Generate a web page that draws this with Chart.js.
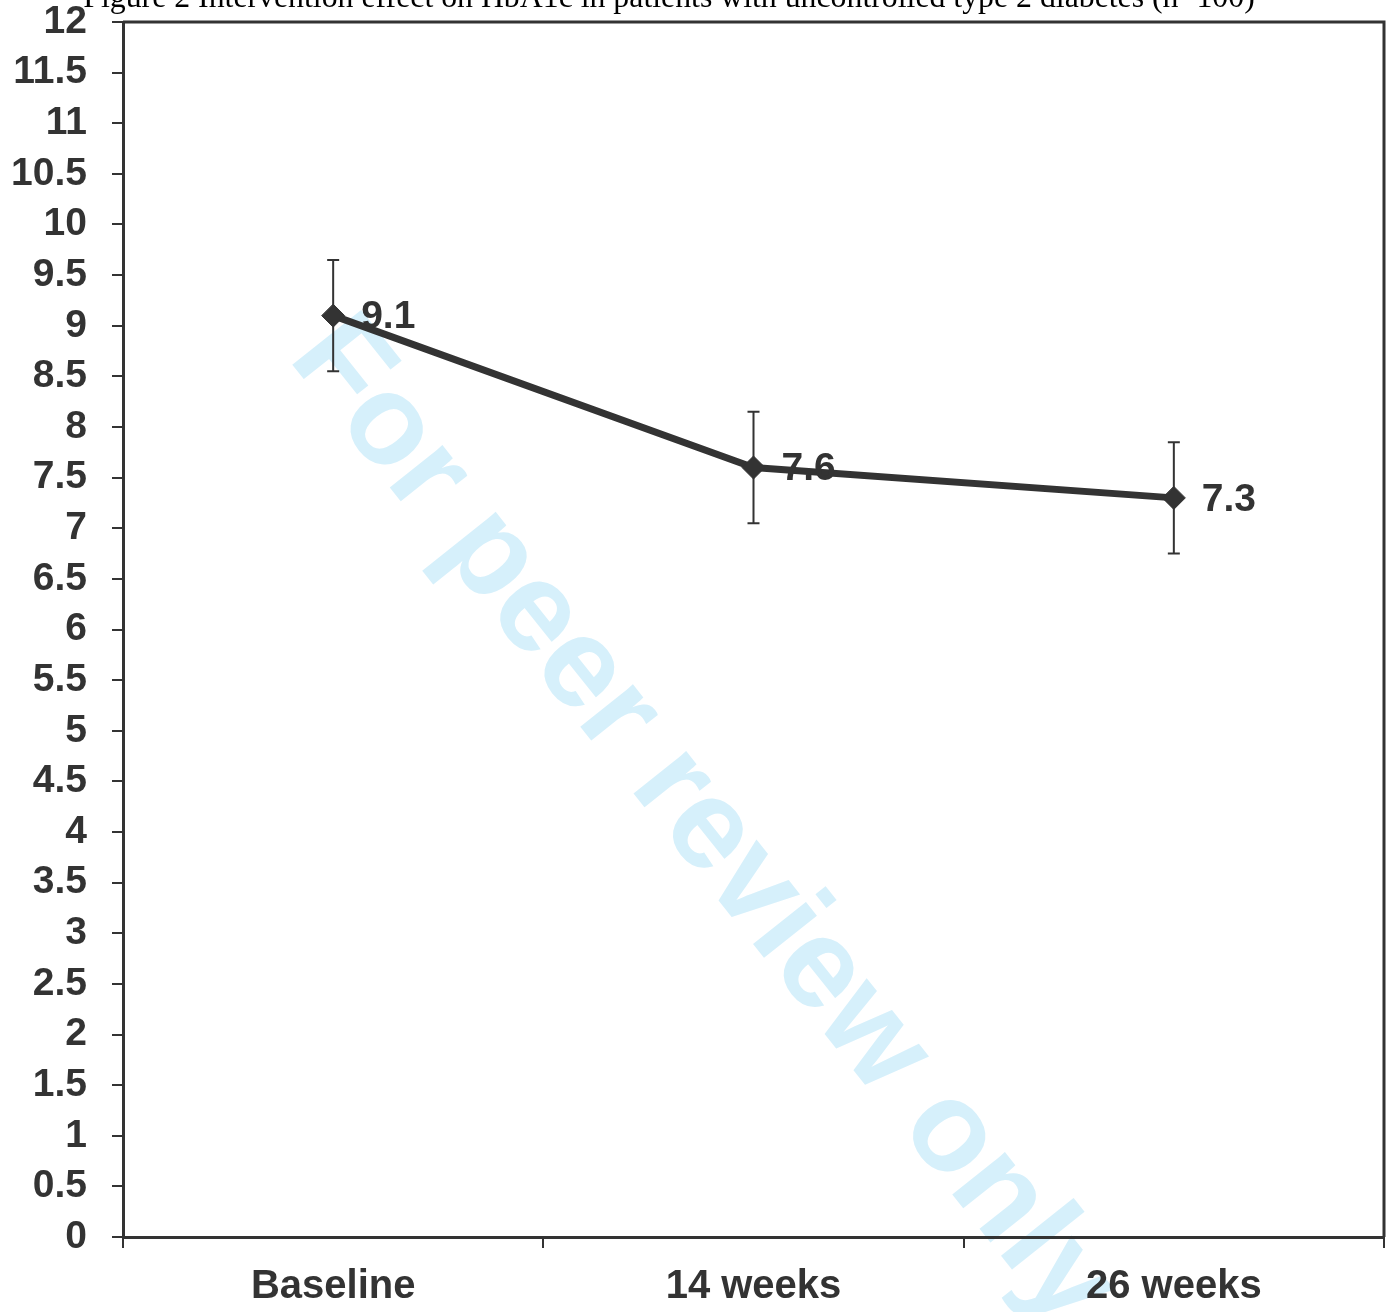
<!DOCTYPE html>
<html>
<head>
<meta charset="utf-8">
<script src="https://cdn.jsdelivr.net/npm/chart.js@4.4.1/dist/chart.umd.min.js"></script>
<style>
  html, body { margin: 0; padding: 0; background: #fff; overflow: hidden; }
  #wrap { position: absolute; left: 0; top: 0; width: 1392px; height: 1312px; }
</style>
</head>
<body>
<div id="wrap"><canvas id="hba1c" width="1392" height="1312"></canvas></div>
<script>
// HbA1c over time, mean with error bars
var timepoints = ["Baseline", "14 weeks", "26 weeks"];
var hba1c = [9.1, 7.6, 7.3];
var errUp = [0.55, 0.55, 0.55];
var errDown = [0.55, 0.55, 0.55];

var titleText = "Figure 2 Intervention effect on HbA1c in patients with uncontrolled type 2 diabetes (n=100)";
var watermarkText = "For peer review only";

var dark = "#333333";

// watermark goes under everything else
var watermark = {
  id: "watermark",
  beforeDraw: function(chart) {
    var ctx = chart.ctx;
    ctx.save();
    ctx.translate(287, 358);
    ctx.rotate(51.5 * Math.PI / 180);
    ctx.font = "bold 128px 'Liberation Sans', Arial, sans-serif";
    ctx.fillStyle = "#d6f0fb";
    ctx.textAlign = "left";
    ctx.textBaseline = "alphabetic";
    ctx.fillText(watermarkText, 0, 0);
    ctx.restore();
  }
};

// caption at the very top, partly cut off like the scan
var caption = {
  id: "caption",
  afterDraw: function(chart) {
    var ctx = chart.ctx;
    ctx.save();
    ctx.font = "31.8px 'Liberation Serif', 'Times New Roman', serif";
    ctx.fillStyle = "#000";
    ctx.textAlign = "center";
    ctx.textBaseline = "alphabetic";
    ctx.fillText(titleText, 669, 7);
    ctx.restore();
  }
};

// top + right frame lines, and the error bars
var frameAndErrors = {
  id: "frameAndErrors",
  beforeDatasetsDraw: function(chart) {
    var ctx = chart.ctx;
    var a = chart.chartArea;
    ctx.save();
    ctx.strokeStyle = dark;
    ctx.lineWidth = 3;
    ctx.beginPath();
    ctx.moveTo(a.left, a.top);
    ctx.lineTo(a.right, a.top);
    ctx.lineTo(a.right, a.bottom);
    ctx.stroke();

    var y = chart.scales.y;
    var meta = chart.getDatasetMeta(0);
    ctx.lineWidth = 2;
    meta.data.forEach(function(pt, i) {
      var top = y.getPixelForValue(hba1c[i] + errUp[i]);
      var bot = y.getPixelForValue(hba1c[i] - errDown[i]);
      ctx.beginPath();
      ctx.moveTo(pt.x, top);
      ctx.lineTo(pt.x, bot);
      ctx.moveTo(pt.x - 6, top);
      ctx.lineTo(pt.x + 6, top);
      ctx.moveTo(pt.x - 6, bot);
      ctx.lineTo(pt.x + 6, bot);
      ctx.stroke();
    });
    ctx.restore();
  }
};

// value labels to the right of each point
var valueLabels = {
  id: "valueLabels",
  afterDatasetsDraw: function(chart) {
    var ctx = chart.ctx;
    var meta = chart.getDatasetMeta(0);
    ctx.save();
    ctx.font = "bold 39px 'Liberation Sans', Arial, sans-serif";
    ctx.fillStyle = dark;
    ctx.textAlign = "left";
    ctx.textBaseline = "middle";
    meta.data.forEach(function(pt, i) {
      ctx.fillText(hba1c[i].toFixed(1), pt.x + 28, pt.y + 2);
    });
    ctx.restore();
  }
};

var chart = new Chart("hba1c", {
  type: "line",
  data: {
    labels: timepoints,
    datasets: [{
      data: hba1c,
      borderColor: dark,
      backgroundColor: dark,
      borderWidth: 7,
      pointStyle: "rectRot",
      pointRadius: 11.5,
      pointBorderWidth: 1,
      pointBackgroundColor: dark,
      pointBorderColor: dark,
      tension: 0,
      fill: false
    }]
  },
  options: {
    responsive: false,
    animation: false,
    events: [],
    layout: {
      autoPadding: false,
      padding: { left: 0, top: 22, right: 8, bottom: 0 }
    },
    plugins: {
      legend: { display: false },
      tooltip: { enabled: false },
      title: { display: false }
    },
    scales: {
      x: {
        type: "category",
        offset: true,
        grid: {
          offset: true,
          drawOnChartArea: false,
          drawTicks: true,
          tickLength: 11,
          color: dark,
          lineWidth: 2
        },
        border: { display: true, color: dark, width: 3 },
        ticks: {
          color: dark,
          padding: 15,
          maxRotation: 0,
          font: { family: "'Liberation Sans', Arial, sans-serif", size: 40, weight: "bold" }
        },
        afterFit: function(scale) {
          scale.height = 75;
          scale.paddingLeft = 0;
          scale.paddingRight = 0;
        }
      },
      y: {
        min: 0,
        max: 12,
        grid: {
          drawOnChartArea: false,
          drawTicks: true,
          tickLength: 11,
          color: dark,
          lineWidth: 2
        },
        border: { display: true, color: dark, width: 3 },
        ticks: {
          stepSize: 0.5,
          color: dark,
          padding: 25,
          autoSkip: false,
          font: { family: "'Liberation Sans', Arial, sans-serif", size: 39, weight: "bold" },
          callback: function(v) { return String(v); }
        },
        afterFit: function(scale) {
          scale.width = 123;
          scale.paddingTop = 0;
          scale.paddingBottom = 0;
        }
      }
    }
  },
  plugins: [watermark, frameAndErrors, valueLabels, caption]
});
</script>
</body>
</html>
